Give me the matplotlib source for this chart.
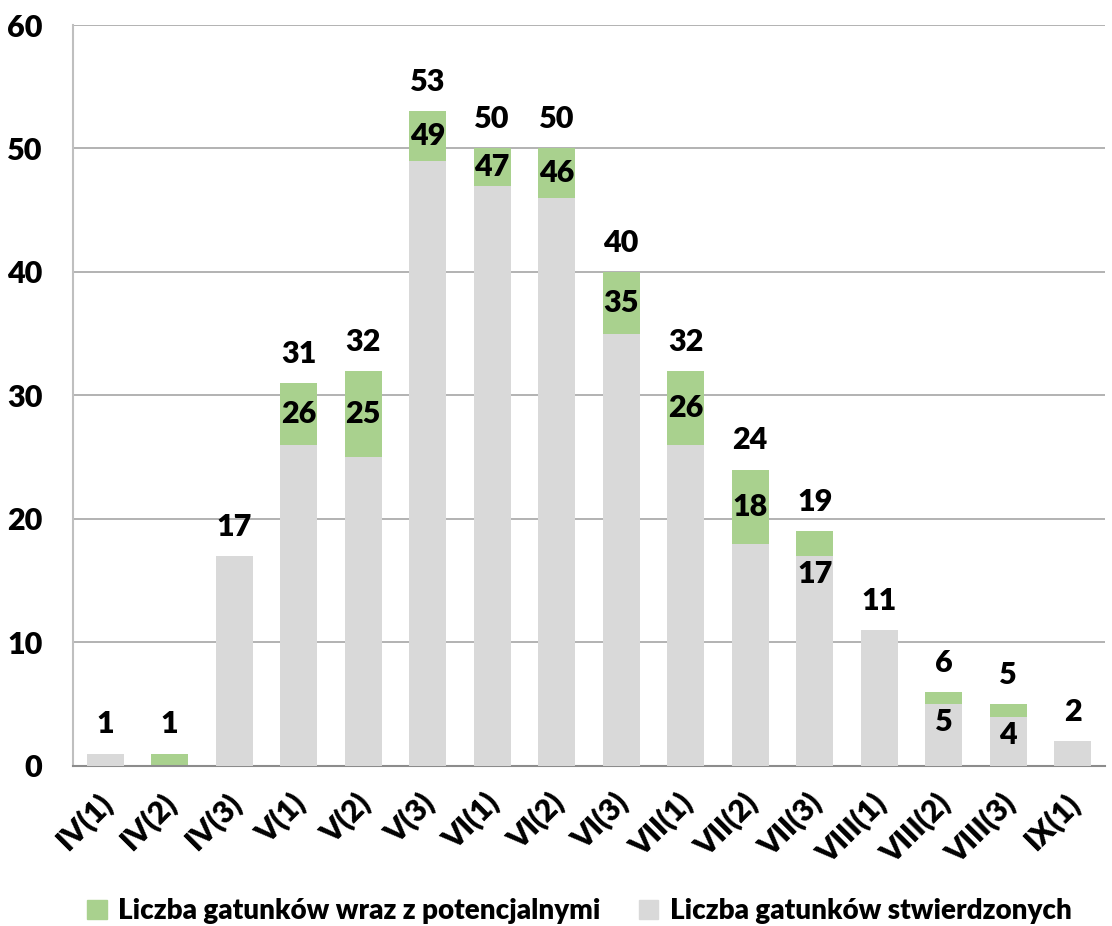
import numpy as np
import matplotlib
matplotlib.use('Agg')
import matplotlib.pyplot as plt
import matplotlib.transforms as mtransforms
from matplotlib.patches import Patch

# data
labels = ['IV(1)', 'IV(2)', 'IV(3)', 'V(1)', 'V(2)', 'V(3)', 'VI(1)', 'VI(2)', 'VI(3)',
          'VII(1)', 'VII(2)', 'VII(3)', 'VIII(1)', 'VIII(2)', 'VIII(3)', 'IX(1)']
total = [1, 1, 17, 31, 32, 53, 50, 50, 40, 32, 24, 19, 11, 6, 5, 2]
confirmed = [1, 0, 17, 26, 25, 49, 47, 46, 35, 26, 18, 17, 11, 5, 4, 2]

green = '#A9D18E'
grey = '#D9D9D9'

plt.rcParams['font.family'] = ['Lato', 'DejaVu Sans']
plt.rcParams['font.weight'] = 'heavy'
fs = 22

fig = plt.figure(figsize=(11.12, 9.26), dpi=100)
ax = fig.add_axes([0.0656, 0.1728, 0.928, 0.8002])

x = np.arange(len(labels))
w = 0.575
ax.bar(x, total, width=w, color=green, zorder=2)
ax.bar(x, confirmed, width=w, color=grey, zorder=3)

ax.set_xlim(-0.5, len(labels) - 0.5)
ax.set_ylim(0, 60)
ax.set_yticks(range(0, 61, 10))
ax.yaxis.grid(True, color='#A6A6A6', linewidth=1.2, zorder=0)
ax.set_axisbelow(True)
for s in ['top', 'right']:
    ax.spines[s].set_visible(False)
ax.spines['left'].set_color('#BFBFBF')
ax.spines['left'].set_linewidth(1.5)
ax.spines['bottom'].set_color('#8C8C8C')
ax.spines['bottom'].set_linewidth(1.5)
ax.tick_params(axis='both', length=0, labelsize=fs)
ax.tick_params(axis='y', pad=22)
ax.tick_params(axis='x', pad=16)
ax.set_xticks(x)
ax.set_xticklabels(labels, rotation=45, ha='right', fontsize=fs, fontweight='heavy')
off = mtransforms.ScaledTranslation(13 / 100, 0, fig.dpi_scale_trans)
for t in ax.get_xticklabels():
    t.set_transform(t.get_transform() + off)
for t in ax.get_yticklabels():
    t.set_fontweight('heavy')

# value labels
for i in range(len(labels)):
    ax.annotate(str(total[i]), (x[i], total[i]), xytext=(0, 21), textcoords='offset points',
                ha='center', va='center', fontsize=fs, fontweight='heavy', zorder=5)
    c = confirmed[i]
    if c > 0 and c != total[i]:
        if total[i] - c >= 3:
            ax.text(x[i], (total[i] + c) / 2, str(c), ha='center', va='center',
                    fontsize=fs, fontweight='heavy', zorder=5)
        else:
            ax.annotate(str(c), (x[i], c), xytext=(0, -3), textcoords='offset points',
                        ha='center', va='top', fontsize=fs, fontweight='heavy', zorder=5)

handles = [Patch(color=green, label='Liczba gatunków wraz z potencjalnymi'),
           Patch(color=grey, label='Liczba gatunków stwierdzonych')]
fig.legend(handles=handles, loc='center', bbox_to_anchor=(0.521, 0.016), ncol=2, frameon=False,
           fontsize=fs - 2, handlelength=0.7, handleheight=0.7, handletextpad=0.4, columnspacing=1.4)

fig.savefig('out.png', dpi=100)
